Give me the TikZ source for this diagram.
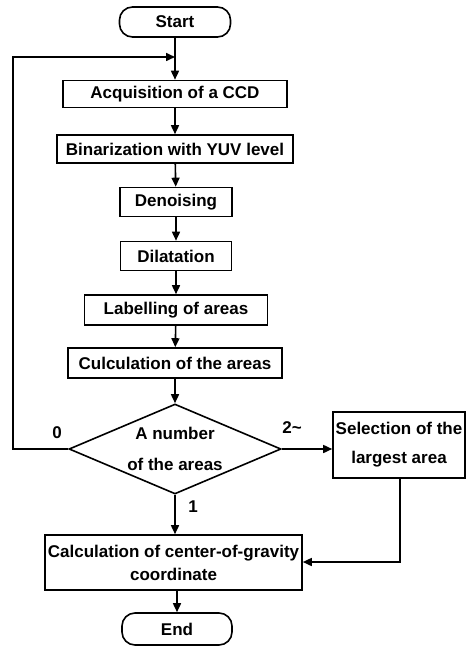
\documentclass[tikz,border=0pt]{standalone}
\usepackage{fontspec}
\setmainfont{Liberation Sans}
\usetikzlibrary{arrows.meta,shapes.geometric}
\begin{document}
\begin{tikzpicture}[x=1pt,y=-1pt,
  every node/.style={font=\fontsize{17}{20}\selectfont\bfseries},
  proc/.style={draw,line width=1.6pt,rectangle,inner sep=1pt},
  term/.style={draw,line width=1.6pt,rectangle,rounded corners=13pt,inner sep=1pt},
  dec/.style={draw,line width=1.6pt,diamond,aspect=2.36,inner sep=0pt},
  conn/.style={line width=1.6pt,-{Triangle[length=9pt,width=8pt]}},
  lab/.style={font=\fontsize{17}{20}\selectfont\bfseries,inner sep=0pt}]
\useasboundingbox (0,0) rectangle (471,647);
\node[term,minimum width=111pt,minimum height=30pt] (start) at (175,22) {Start};
\node[proc,minimum width=224pt,minimum height=27pt] (acq) at (175,94) {Acquisition of a CCD};
\node[proc,minimum width=236pt,minimum height=28pt] (bin) at (175,149) {Binarization with YUV level};
\node[proc,minimum width=112pt,minimum height=29pt] (den) at (176,202) {Denoising};
\node[proc,minimum width=111pt,minimum height=29pt] (dil) at (176,256) {Dilatation};
\node[proc,minimum width=183pt,minimum height=30pt] (labl) at (176,310) {Labelling of areas};
\node[proc,minimum width=214pt,minimum height=30pt] (cul) at (175,363) {Culculation of the areas};
\node[dec,minimum width=212pt,minimum height=90pt,align=center] (dia) at (175,449) {A number\\[11pt]of the areas};
\node[proc,minimum width=132pt,minimum height=66pt,align=center] (sel) at (399,445) {Selection of the\\[9pt]largest area};
\node[proc,minimum width=257pt,minimum height=55pt,align=center] (calc) at (173.5,562.5) {Calculation of center-of-gravity\\[3pt]coordinate};
\node[term,minimum width=110pt,minimum height=32pt] (end) at (177,629) {End};
\coordinate (jn) at (175,57);
\coordinate (lb) at (13,449);
\coordinate (lt) at (13,57);
\coordinate (sb) at (400,562);
\draw[line width=1.6pt] (start.south) -- (jn);
\draw[conn] (jn) -- (acq.north);
\draw[conn] (dia.west) -- (lb) -- (lt) -- (jn);
\draw[conn] (acq) -- (bin);
\draw[conn] (bin) -- (den);
\draw[conn] (den) -- (dil);
\draw[conn] (dil) -- (labl);
\draw[conn] (labl) -- (cul);
\draw[conn] (cul.south) -- (dia.north);
\draw[conn] (dia.east) -- (dia.east -| sel.west);
\draw[conn] (dia.south) -- (dia.south |- calc.north);
\draw[conn] (sel.south -| sb) -- (sb) -- (sb -| calc.east);
\draw[conn] (calc.south -| end.north) -- (end.north);
\node[lab] (l0) at (57,433) {0};
\node[lab] (l2) at (292,428) {2\textasciitilde};
\node[lab] (l1) at (193,507) {1};
\end{tikzpicture}
\end{document}
